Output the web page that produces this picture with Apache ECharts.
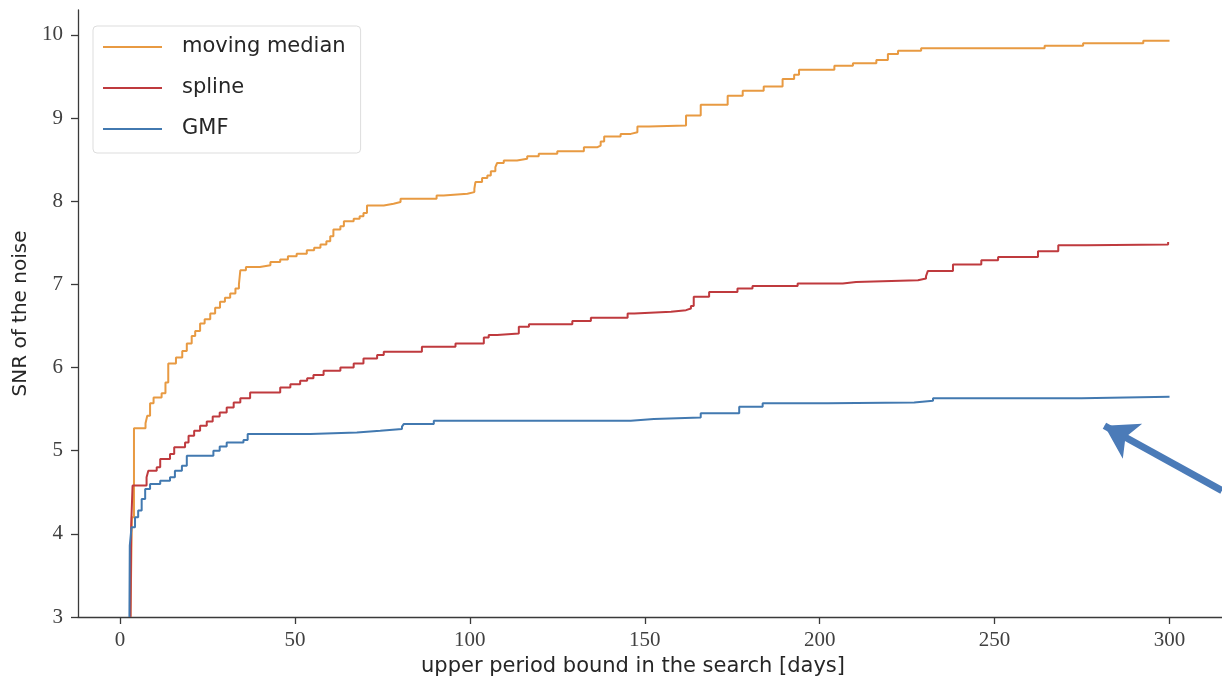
<!DOCTYPE html>
<html>
<head>
<meta charset="utf-8">
<title>SNR of the noise vs upper period bound</title>
<script src="https://cdn.jsdelivr.net/npm/echarts@6/dist/echarts.min.js"></script>
<style>
  html, body { margin: 0; padding: 0; background: #ffffff; }
  #chart { width: 1222px; height: 684px; }
</style>
</head>
<body>
<div id="chart"></div>
<script>
// Upper period bound [days] at which each cumulative SNR level starts, and the level itself.
const movingMedian = [
  [3.0, 3.0], [3.4, 4.2], [4.0, 5.27], [7.3, 5.33], [7.8, 5.42], [8.6, 5.57], [9.6, 5.64],
  [11.9, 5.69], [13.0, 5.82], [13.8, 6.05], [16.0, 6.12], [17.8, 6.2], [19.1, 6.29],
  [20.5, 6.38], [21.5, 6.44], [22.9, 6.53], [24.2, 6.58], [25.8, 6.65], [27.2, 6.72],
  [28.6, 6.79], [30.0, 6.84], [31.5, 6.89], [33.0, 6.95], [34.0, 7.0], [34.4, 7.17],
  [36.0, 7.21], [40.0, 7.23], [43.0, 7.27], [45.8, 7.30], [48.0, 7.34], [50.5, 7.37],
  [53.4, 7.41], [55.5, 7.44], [57.3, 7.48], [59.0, 7.52], [60.1, 7.58], [61.0, 7.66],
  [63.0, 7.70], [64.0, 7.76], [66.8, 7.79], [68.5, 7.82], [69.6, 7.86], [70.6, 7.95],
  [75.4, 7.97], [78.2, 7.99], [80.2, 8.03], [90.5, 8.07], [92.5, 8.09], [99.3, 8.11],
  [101.3, 8.15], [101.6, 8.23], [103.5, 8.28], [105.0, 8.31], [106.0, 8.36], [107.3, 8.41],
  [107.8, 8.46], [109.7, 8.49], [113.5, 8.51], [116.4, 8.54], [119.7, 8.57], [125.0, 8.60],
  [132.6, 8.65], [136.5, 8.67], [137.4, 8.72], [138.4, 8.78], [143.1, 8.81], [146.0, 8.83],
  [147.9, 8.90], [151.2, 8.91], [161.8, 9.03], [166.0, 9.16], [173.7, 9.27], [178.0, 9.33],
  [184.0, 9.38], [189.4, 9.47], [192.7, 9.52], [194.1, 9.58], [204.2, 9.63], [209.5, 9.66],
  [216.2, 9.70], [219.5, 9.77], [222.4, 9.81], [229.0, 9.84], [264.3, 9.87], [275.3, 9.90],
  [292.5, 9.93], [300.0, 9.93]
];

const spline = [
  [3.0, 3.0], [3.2, 4.1], [3.6, 4.58], [7.6, 4.68], [8.1, 4.76], [10.5, 4.80], [11.5, 4.90],
  [14.3, 4.96], [15.5, 5.04], [18.6, 5.10], [19.6, 5.18], [21.2, 5.24], [22.9, 5.30],
  [24.8, 5.35], [26.5, 5.41], [28.5, 5.46], [30.5, 5.52], [32.5, 5.58], [34.4, 5.63],
  [37.2, 5.70], [45.8, 5.76], [48.7, 5.80], [51.5, 5.84], [53.5, 5.87], [55.3, 5.91],
  [58.2, 5.96], [63.0, 6.00], [66.8, 6.05], [69.6, 6.11], [73.5, 6.15], [75.4, 6.19],
  [86.3, 6.25], [95.9, 6.29], [104.0, 6.36], [105.4, 6.39], [107.8, 6.41], [114.0, 6.49],
  [116.9, 6.52], [129.3, 6.56], [134.6, 6.60], [145.1, 6.65], [147.0, 6.67], [157.5, 6.69],
  [161.8, 6.71], [163.2, 6.74], [164.0, 6.85], [168.4, 6.91], [176.5, 6.95], [180.8, 6.98],
  [193.7, 7.01], [206.6, 7.03], [210.4, 7.05], [228.1, 7.07], [230.4, 7.10], [230.9, 7.16],
  [238.1, 7.24], [246.2, 7.29], [251.0, 7.33], [262.4, 7.40], [268.2, 7.47], [276.3, 7.48],
  [299.6, 7.51]
];

const gmf = [
  [2.7, 3.0], [2.8, 3.86], [3.3, 4.08], [4.3, 4.20], [5.2, 4.28], [6.2, 4.42], [7.2, 4.54],
  [8.6, 4.60], [11.5, 4.64], [14.3, 4.68], [15.7, 4.76], [17.7, 4.82], [19.1, 4.94],
  [26.7, 5.00], [28.5, 5.05], [30.5, 5.10], [35.3, 5.13], [36.5, 5.20], [54.4, 5.22],
  [67.7, 5.24], [74.4, 5.26], [80.6, 5.29], [81.1, 5.32], [89.7, 5.36], [146.0, 5.38],
  [152.6, 5.40], [166.0, 5.45], [177.0, 5.53], [183.7, 5.57], [202.3, 5.58], [227.0, 5.60],
  [232.4, 5.63], [274.8, 5.65], [300.0, 5.65]
];

const xTicks = [0, 50, 100, 150, 200, 250, 300];
const yTicks = [3, 4, 5, 6, 7, 8, 9, 10];

// Pointer arrow (tail, head) in data coordinates
const arrowFrom = [315, 4.52];
const arrowTo = [281.4, 5.30];

const serifTicks = { fontFamily: 'Liberation Serif', fontSize: 21, color: '#404040' };
const axisColor = '#3a3a3a';
const nameFont = { fontFamily: 'DejaVu Sans', color: '#262626' };

const chart = echarts.init(document.getElementById('chart'), null, { renderer: 'canvas' });

chart.setOption({
  backgroundColor: '#ffffff',
  animation: false,
  grid: { left: 78, right: 0, top: 10, bottom: 67, containLabel: false },
  legend: {
    left: 93,
    top: 26,
    orient: 'vertical',
    icon: 'rect',
    itemWidth: 59,
    itemHeight: 2,
    itemGap: 17,
    padding: [9, 15, 12, 10],
    backgroundColor: '#ffffff',
    borderColor: '#dddddd',
    borderWidth: 1,
    borderRadius: 4,
    textStyle: { fontFamily: 'DejaVu Sans', fontSize: 21, lineHeight: 24, color: '#262626', padding: [0, 0, 0, 15] },
    data: ['moving median', 'spline', 'GMF']
  },
  xAxis: {
    type: 'value',
    min: -12,
    max: 315,
    name: 'upper period bound in the search [days]',
    nameLocation: 'middle',
    nameGap: 39,
    nameTextStyle: Object.assign({ fontSize: 21, padding: [0, 34, 0, 0] }, nameFont),
    axisLine: { show: true, onZero: false, lineStyle: { color: axisColor, width: 1.3 } },
    axisTick: { show: true, length: 7, lineStyle: { color: axisColor, width: 1.3 }, customValues: xTicks },
    axisLabel: Object.assign({ margin: 13, customValues: xTicks }, serifTicks),
    splitLine: { show: false }
  },
  yAxis: {
    type: 'value',
    min: 3,
    max: 10.3,
    name: 'SNR of the noise',
    nameLocation: 'middle',
    nameGap: 46,
    nameRotate: 90,
    nameTextStyle: Object.assign({ fontSize: 20 }, nameFont),
    axisLine: { show: true, onZero: false, lineStyle: { color: axisColor, width: 1.3 } },
    axisTick: { show: true, length: 7, lineStyle: { color: axisColor, width: 1.3 }, customValues: yTicks },
    axisLabel: Object.assign({ margin: 15, customValues: yTicks }, serifTicks),
    splitLine: { show: false }
  },
  series: [
    {
      name: 'moving median',
      type: 'line',
      step: 'end',
      symbol: 'none',
      data: movingMedian,
      color: '#e89a42',
      lineStyle: { width: 2, color: '#e89a42' }
    },
    {
      name: 'spline',
      type: 'line',
      step: 'end',
      symbol: 'none',
      data: spline,
      color: '#bf3a3e',
      lineStyle: { width: 2, color: '#bf3a3e' }
    },
    {
      name: 'GMF',
      type: 'line',
      step: 'end',
      symbol: 'none',
      data: gmf,
      color: '#4279b0',
      lineStyle: { width: 2, color: '#4279b0' },
      markLine: {
        silent: true,
        symbol: ['none', 'arrow'],
        symbolSize: [30, 32],
        label: { show: false },
        lineStyle: { color: '#4b7bb8', width: 7, type: 'solid' },
        itemStyle: { color: '#4b7bb8' },
        data: [[{ coord: arrowFrom }, { coord: arrowTo }]]
      }
    }
  ]
});
</script>
</body>
</html>
